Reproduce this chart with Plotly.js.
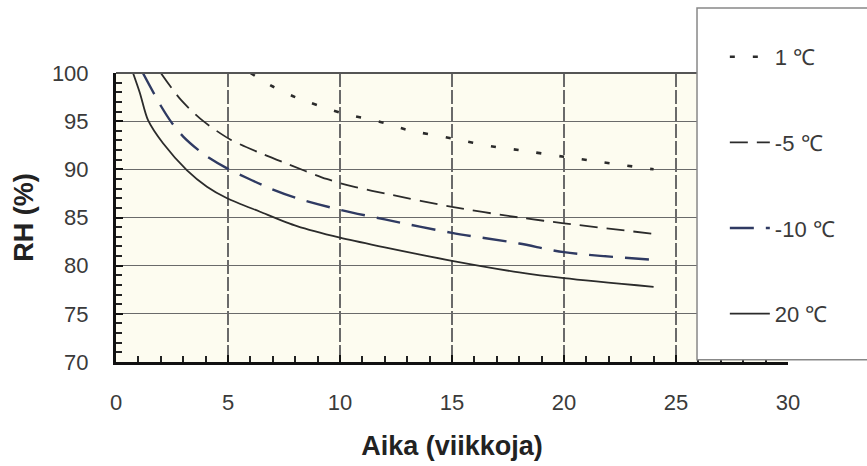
<!DOCTYPE html>
<html>
<head>
<meta charset="utf-8">
<script src="https://cdn.plot.ly/plotly-3.0.1.min.js"></script>
<style>html,body{margin:0;padding:0;background:#fff;}#chart{width:867px;height:466px;}</style>
</head>
<body>
<div id="chart"></div>
<script>
// Data (weeks, RH %)
const seriesNames = ["1 \u2103", "-5 \u2103", "-10 \u2103", "20 \u2103"];
const week_1C  = [6, 7, 8, 10, 12, 13, 15, 17, 18, 20, 24];
const rh_1C    = [100, 98.6, 97.5, 95.9, 94.8, 94.1, 93.2, 92.3, 92.0, 91.3, 90.0];
const week_m5  = [2.0, 2.9, 3.9, 5.1, 6.43, 7.5, 9.4, 10.6, 12, 15, 18, 20, 24];
const rh_m5    = [100, 97.2, 95.0, 93.1, 91.7, 90.7, 89.0, 88.2, 87.5, 86.1, 85.0, 84.4, 83.3];
const week_m10 = [1.2, 2.0, 2.5, 3.0, 3.9, 4.96, 5.85, 6.9, 8.08, 10, 12, 15, 18, 20, 24];
const rh_m10   = [100, 96.6, 94.8, 93.4, 91.6, 90.1, 89.1, 88.0, 87.0, 85.8, 84.8, 83.4, 82.3, 81.4, 80.6];
const week_20  = [0.76, 1.07, 1.43, 2.1, 3.17, 4.06, 4.96, 6.43, 8.08, 10, 12, 15, 18, 20, 24];
const rh_20    = [100, 97.9, 95.1, 92.7, 89.9, 88.2, 87.0, 85.6, 84.1, 82.9, 81.9, 80.5, 79.3, 78.7, 77.8];
const xTicks = [0, 5, 10, 15, 20, 25, 30];
const yTicks = [70, 75, 80, 85, 90, 95, 100];

const xs = [week_1C, week_m5, week_m10, week_20];
const ys = [rh_1C, rh_m5, rh_m10, rh_20];
const styles = [
  {color: "#2b2b2b", width: 2.6, dash: "5px,18px"},
  {color: "#2b2b2b", width: 1.8, dash: "18px,9px"},
  {color: "#2f3a62", width: 2.4, dash: "24px,12px"},
  {color: "#2b2b2b", width: 1.8, dash: "solid"}
];
const traces = xs.map((x, i) => ({
  type: "scatter", mode: "lines", x: x, y: ys[i], name: seriesNames[i],
  legendgroup: "g" + i,
  line: Object.assign({shape: "spline", smoothing: 0.8}, styles[i])
}));

const font = "Liberation Sans, Arial, sans-serif";
const layout = {
  width: 867, height: 466,
  margin: {l: 116, r: 79, t: 73, b: 104},
  paper_bgcolor: "#ffffff",
  plot_bgcolor: "#fdfcf0",
  font: {family: font, size: 22, color: "#3a3a3a"},
  showlegend: true,
  legend: {
    x: 0.906, xanchor: "left", y: 1.128, yanchor: "top",
    bgcolor: "rgba(0,0,0,0)", borderwidth: 0,
    font: {family: font, size: 22, color: "#3a3a3a"},
    tracegroupgap: 54, itemwidth: 40, maxheight: 466
  },
  xaxis: {
    range: [0, 30], tickvals: xTicks, ticktext: xTicks.map(String),
    showline: true, linecolor: "#111", linewidth: 3,
    ticks: "inside", ticklen: 7, tickwidth: 2, tickcolor: "#111",
    minor: {dtick: 1, ticks: "inside", ticklen: 6, tickwidth: 2, tickcolor: "#222", showgrid: false},
    showgrid: true, gridcolor: "#6a6a6a", gridwidth: 1.2, griddash: "14px,3px",
    zeroline: false, ticklabelstandoff: 19,
    tickfont: {family: font, size: 22, color: "#3a3a3a"},
    title: {text: "Aika (viikkoja)", standoff: 22, font: {family: font, size: 27, color: "#222", weight: "bold"}}
  },
  yaxis: {
    range: [70, 100], tickvals: yTicks, ticktext: yTicks.map(String),
    showline: true, linecolor: "#111", linewidth: 3,
    ticks: "inside", ticklen: 7, tickwidth: 2, tickcolor: "#111",
    minor: {dtick: 1, ticks: "inside", ticklen: 6, tickwidth: 2, tickcolor: "#222", showgrid: false},
    showgrid: true, gridcolor: "#6a6a6a", gridwidth: 1.2,
    zeroline: false, ticklabelstandoff: 20,
    tickfont: {family: font, size: 22, color: "#3a3a3a"},
    title: {text: "RH (%)", standoff: 11, font: {family: font, size: 27, color: "#222", weight: "bold"}}
  },
  shapes: [
    {type: "line", xref: "paper", yref: "paper", x0: 0, x1: 1, y0: 1, y1: 1,
     line: {color: "#555", width: 2}, layer: "above"},
    {type: "rect", xref: "paper", yref: "paper", x0: 0.8646, x1: 1.13, y0: 0.008, y1: 1.2245,
     fillcolor: "#ffffff", line: {color: "#888", width: 1.5}, layer: "above"}
  ]
};

Plotly.newPlot("chart", traces, layout, {displayModeBar: false, staticPlot: true});
</script>
</body>
</html>
